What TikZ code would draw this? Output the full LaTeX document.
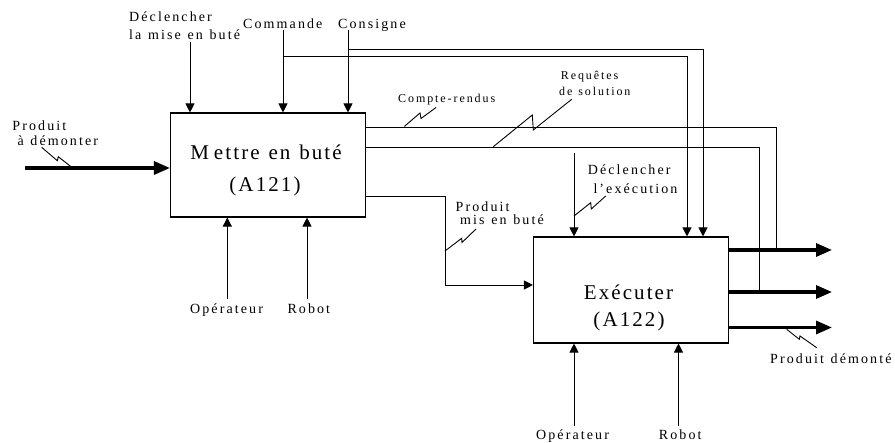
\documentclass[tikz,border=0pt]{standalone}
\usepackage{fontspec}
\setmainfont{Liberation Serif}
\newfontfamily\lsfont[LetterSpace=15,WordSpace=1.2]{Liberation Serif}
\newfontfamily\lssmall[LetterSpace=16,WordSpace=1.2]{Liberation Serif}
\newfontfamily\lstitle[LetterSpace=10,WordSpace=1.2]{Liberation Serif}
\usetikzlibrary{arrows.meta}
\begin{document}
\begin{tikzpicture}[x=1pt,y=-1pt,
  lbl/.style={inner sep=0pt, anchor=base west, font=\lsfont\fontsize{14}{16}\selectfont},
  sml/.style={inner sep=0pt, anchor=base west, font=\lssmall\fontsize{12}{14}\selectfont},
  ttl/.style={inner sep=0pt, anchor=base, font=\lstitle\fontsize{21}{25}\selectfont},
  fbox/.style={draw, line width=1.1pt, inner sep=0pt},
  flow/.style={line width=0.9pt},
  arr/.style={flow, -{Triangle[length=9pt,width=9pt]}},
  big/.style={line width=3.2pt, -{Triangle[length=16pt,width=13pt]}},
  zig/.style={line width=0.9pt, line join=miter},
]
\useasboundingbox (0,0) rectangle (895,443);

% boxes
\node[fbox, minimum width=195pt, minimum height=104pt] (A121) at (268,165) {};
\node[fbox, minimum width=195pt, minimum height=106pt] (A122) at (631,290) {};
\node[ttl] (t1a) at (266,160) {M\kern5pt ettre en buté};
\node[ttl] (t1b) at (265,192) {(A121)};
\node[ttl] (t2a) at (628.5,300) {Exécuter};
\node[ttl] (t2b) at (629,327) {(A122)};

% labels
\node[lbl] (c1a) at (129,21.5) {Déclencher};
\node[lbl] (c1b) at (129,39.5) {la mise en buté};
\node[lbl] (cmd) at (243,28.3) {Commande};
\node[lbl] (csg) at (338,28.3) {Consigne};
\node[sml] (crd) at (398,102.3) {Compte-rendus};
\node[sml] (rqa) at (560.7,80) {Requêtes};
\node[sml] (rqb) at (559,96) {de solution};
\node[lbl] (ina) at (12.3,130.7) {Produit};
\node[lbl] (inb) at (17.3,145.7) {à démonter};
\node[lbl] (c3a) at (587.7,175) {Déclencher};
\node[lbl] (c3b) at (593.3,193.3) {l’exécution};
\node[lbl] (pma) at (455.5,211.7) {Produit};
\node[lbl] (pmb) at (460,225) {mis en buté};
\node[lbl] (op1) at (190,314) {Opérateur};
\node[lbl] (rb1) at (287.3,314) {Robot};
\node[lbl] (op2) at (536,440) {Opérateur};
\node[lbl] (rb2) at (658.7,440) {Robot};
\node[lbl] (pdm) at (770,363.3) {Produit démonté};

% coordinates
\coordinate (in1) at (25,168);
\coordinate (c1) at (190,42);
\coordinate (cmdS) at (283,30);
\coordinate (cmdJ) at (283,56);
\coordinate (cmdT) at (687,56);
\coordinate (csgS) at (348,30);
\coordinate (csgJ) at (348,49);
\coordinate (csgT) at (703,49);
\coordinate (o1j) at (776,250);
\coordinate (o2j) at (759,292);
\coordinate (pmX) at (445,285);
\coordinate (c3) at (574,153);
\coordinate (m1) at (227.3,299);
\coordinate (m2) at (307,299);
\coordinate (m3) at (574,426);
\coordinate (m4) at (678.5,426);
\coordinate (out1) at (832,250);
\coordinate (out2) at (832,292);
\coordinate (out3) at (832,327.5);

% input
\draw[big] (in1) -- (in1 -| A121.west);
% controls
\draw[arr] (c1) -- (c1 |- A121.north);
\draw[arr] (cmdS) -- (cmdS |- A121.north);
\draw[arr] (cmdJ) -- (cmdT) -- (cmdT |- A122.north);
\draw[arr] (csgS) -- (csgS |- A121.north);
\draw[arr] (csgJ) -- (csgT) -- (csgT |- A122.north);
\draw[arr] (c3) -- (c3 |- A122.north);
% feedback lines
\draw[flow] ([yshift=38pt]A121.east) -| (o1j);
\draw[flow] ([yshift=18pt]A121.east) -| (o2j);
% intermediate product
\draw[arr] ([yshift=-31pt]A121.east) -| (pmX) -- (pmX -| A122.west);
% outputs
\draw[big] (out1 -| A122.east) -- (out1);
\draw[big] (out2 -| A122.east) -- (out2);
\draw[big] (out3 -| A122.east) -- (out3);
% mechanisms
\draw[arr] (m1) -- (m1 |- A121.south);
\draw[arr] (m2) -- (m2 |- A121.south);
\draw[arr] (m3) -- (m3 |- A122.south);
\draw[arr] (m4) -- (m4 |- A122.south);

% squiggles
\draw[zig] (41.7,147.3) -- (57.3,160.7) -- (58.3,156.7) -- (71.7,167.3);
\draw[zig] (404.3,126.5) -- (420,113) -- (421,118.5) -- (436,107.5);
\draw[zig] (493.3,146.7) -- (532.3,115) -- (533.3,130) -- (571.7,99.3);
\draw[zig] (574,216) -- (590.7,202.7) -- (591.3,209) -- (605.7,196);
\draw[zig] (445,251) -- (461.7,238.3) -- (462,242.5) -- (476,229);
\draw[zig] (786.7,329.3) -- (799.3,339.3) -- (800,336) -- (816.7,347.7);
\end{tikzpicture}
\end{document}
